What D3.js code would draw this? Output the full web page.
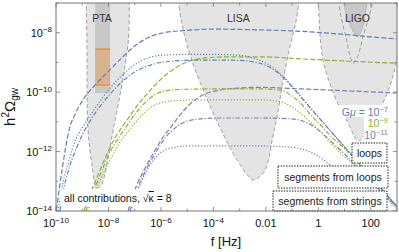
<!DOCTYPE html>
<html>
<head>
<meta charset="utf-8">
<script src="https://cdn.jsdelivr.net/npm/d3@7"></script>
<style>
  body { margin: 0; background: #fff; }
  text { font-family: "Liberation Sans", Arial, sans-serif; }
</style>
</head>
<body>
<script>
// every point is [log10 f in Hz, log10 h^2 Omega_gw]

// G mu = 1e-7
var loopsBlue = [[-10.02,-14.2],[-9.77,-12.62],[-9.5,-11.27],[-9.25,-10.7],[-9.0,-10.3],[-8.5,-9.75],[-8.0,-9.3],[-7.5,-8.85],[-7.0,-8.45],[-6.5,-8.17],[-6,-8.02],[-5,-7.92],[-4,-7.88],[-3,-7.89],[-2,-7.91],[-1,-7.94],[0,-7.99],[1,-8.06],[2,-8.14],[3.05,-8.21]];
var segStringsBlue = [[-9.92,-14.0],[-9.75,-13.12],[-9.5,-12.28],[-9.25,-11.6],[-9,-11.2],[-8.5,-10.53],[-8,-9.93],[-7.5,-9.45],[-7,-9.08],[-6.5,-8.85],[-6,-8.76],[-5,-8.73],[-4,-8.73],[-3,-8.76],[-2.5,-8.85],[-2,-9.02],[-1.5,-9.33],[-1,-9.8],[-0.5,-10.32],[0,-10.84],[1,-11.84],[2,-12.84],[3.05,-13.9]];
var segLoopsBlue = [[-9.85,-14.0],[-9.75,-13.46],[-9.5,-12.55],[-9.25,-11.95],[-9,-11.44],[-8.5,-10.7],[-8,-10.13],[-7.5,-9.66],[-7,-9.32],[-6.5,-9.12],[-6,-9.0],[-5,-8.93],[-4,-8.92],[-3,-8.93],[-2.5,-8.98],[-2,-9.1],[-1.5,-9.38],[-1,-9.82],[-0.5,-10.33],[0,-10.84],[1,-11.84],[2,-12.84],[3.05,-13.9]];

// G mu = 1e-9
var loopsGreen = [[-8.93,-14.0],[-8.78,-13.53],[-8.59,-13.19],[-8.32,-12.62],[-8.02,-12.01],[-7.75,-11.54],[-7.48,-11.17],[-7.18,-10.8],[-6.91,-10.46],[-6.53,-10.06],[-6.03,-9.59],[-5.46,-9.19],[-4.89,-8.95],[-4.31,-8.85],[-3.36,-8.81],[-2.21,-8.81],[-0.69,-8.88],[1.22,-8.96],[3.02,-9.03]];
var segLoopsGreen = [[-8.85,-14.0],[-8.70,-13.53],[-8.51,-13.19],[-8.24,-12.62],[-7.94,-12.01],[-7.67,-11.61],[-7.40,-11.27],[-7.10,-10.87],[-6.79,-10.53],[-6.49,-10.26],[-6.18,-10.06],[-5.84,-9.96],[-5.27,-9.91],[-3.74,-9.89],[-2.21,-9.89],[-1.45,-9.93],[-1.07,-10.09],[-0.69,-10.36],[-0.31,-10.74],[0.08,-11.1],[0.46,-11.47],[1,-11.9],[2,-12.87],[3.05,-13.9]];
var segStringsGreen = [[-8.78,-14.0],[-8.63,-13.53],[-8.44,-13.19],[-8.17,-12.69],[-7.86,-12.15],[-7.6,-11.74],[-7.33,-11.41],[-7.02,-11.07],[-6.72,-10.77],[-6.41,-10.53],[-6.03,-10.36],[-5.46,-10.29],[-4.5,-10.26],[-2.21,-10.26],[-1.64,-10.29],[-1.07,-10.46],[-0.69,-10.7],[-0.31,-11.0],[0.08,-11.34],[0.46,-11.71],[0.84,-12.05],[1.5,-12.55],[2,-12.98],[3.05,-14.0]];

// G mu = 1e-11
var loopsPurple = [[-7.25,-14.0],[-7.1,-13.53],[-6.95,-13.19],[-6.6,-12.55],[-6.22,-11.95],[-5.92,-11.51],[-5.65,-11.21],[-5.27,-10.77],[-4.89,-10.4],[-4.39,-10.09],[-3.74,-9.93],[-2.98,-9.86],[-2.21,-9.84],[-0.69,-9.89],[1.22,-9.96],[3.02,-10.03]];
var segLoopsPurple = [[-7.18,-14.0],[-7.02,-13.53],[-6.87,-13.19],[-6.53,-12.55],[-6.18,-12.01],[-5.84,-11.54],[-5.46,-11.21],[-5.08,-11.0],[-4.5,-10.9],[-3.74,-10.87],[-2.21,-10.87],[-1.07,-10.9],[-0.5,-11.0],[0,-11.27],[0.46,-11.64],[1.03,-12.11],[1.6,-12.62],[2.18,-13.16],[3.02,-13.87]];
var segStringsPurple = [[-7.14,-14.0],[-6.98,-13.53],[-6.83,-13.19],[-6.53,-12.62],[-6.22,-12.22],[-5.92,-11.98],[-5.46,-11.85],[-5,-11.81],[-2.21,-11.81],[-1.07,-11.85],[-0.5,-11.95],[0,-12.15],[0.34,-12.38],[0.84,-12.69],[1.41,-12.99],[1.98,-13.29],[2.56,-13.56],[3.02,-13.9]];

// sensitivity regions (outlines)
var ptaRegion = [[-8.85,-6.9],[-8.82,-8.34],[-8.78,-11.27],[-8.62,-12.5],[-8.47,-13.19],[-8.32,-13.19],[-7.82,-11.27],[-7.25,-8.34],[-7.21,-6.9]];
var ptaBand = [-8.51,-7.94];          // f range of the dark column
var ptaSignal = [-9.76,-8.55];        // Omega range of the orange box
var lisaRegion = [[-5.34,-6.9],[-5.23,-7.57],[-4.89,-8.75],[-4.31,-10.09],[-3.74,-11.21],[-3.28,-12.01],[-2.9,-12.55],[-2.67,-12.82],[-2.48,-12.96],[-2.1,-12.72],[-1.9,-12.28],[-1.76,-11.61],[-1.56,-10.77],[-1.34,-9.59],[-1.11,-8.58],[-0.84,-7.57],[-0.73,-6.9]];
var groundRegion = [[0,-6.9],[0.08,-8.24],[0.19,-8.98],[0.42,-9.66],[0.73,-10.36],[1.11,-11.0],[1.37,-11.47],[1.53,-11.64],[1.72,-11.51],[2.18,-10.84],[2.6,-10.09],[2.86,-9.42],[3.02,-8.75],[3.2,-8.0],[3.2,-6.9]];
var ligoDesign = [[0.76,-6.9],[0.9,-7.6],[1.07,-8.2],[1.2,-8.75],[1.34,-9.02],[1.5,-8.8],[1.72,-8.08],[1.92,-7.5],[2.1,-6.9]];
var ligoRun = [[0.95,-6.9],[1.07,-7.4],[1.26,-7.84],[1.49,-8.14],[1.68,-7.84],[1.79,-7.4],[1.87,-6.9]];

var xTickExp = d3.range(-10, 4);
var xLabelExp = [-10, -8, -6, -4, -2, 0, 2];
var yTickExp = d3.range(-14, -6);
var yLabelExp = [-14, -12, -10, -8];
var gmuLabels = ["\u22127", "\u22129", "\u221211"];

var blue = "#5e81b5", green = "#8fb032", purple = "#8778b3";

var svg = d3.select("body").append("svg")
    .attr("width", 399)
    .attr("height", 252);

var x = d3.scaleLog().domain([1e-10, 1e3]).range([56, 397]);
var y = d3.scaleLog().domain([1e-14, 1e-7]).range([211, 3]);

function px(d) { return x(Math.pow(10, d[0])); }
function py(d) { return y(Math.pow(10, d[1])); }

svg.append("clipPath").attr("id", "plot")
  .append("rect").attr("x", 56).attr("y", 3).attr("width", 341).attr("height", 208);

var plot = svg.append("g").attr("clip-path", "url(#plot)");

// ---- detector regions
var area = d3.line().x(px).y(py).curve(d3.curveCatmullRom.alpha(0.5));

function region(data, fill) {
  plot.append("path")
      .attr("d", area(data) + "Z")
      .attr("fill", fill)
      .attr("stroke", "none");
  plot.append("path")
      .attr("d", area(data))
      .attr("fill", "none")
      .attr("stroke", "#8c8c8c")
      .attr("stroke-width", 0.8)
      .attr("stroke-dasharray", "4,2.5");
}

region(ptaRegion, "#e4e4e4");
region(lisaRegion, "#e4e4e4");
region(groundRegion, "#e4e4e4");
region(ligoDesign, "none");
plot.append("path")
    .attr("d", area(ligoRun) + "Z")
    .attr("fill", "#c8c8c8")
    .attr("stroke", "#999")
    .attr("stroke-width", 0.5);

// PTA column and signal box
plot.append("rect")
    .attr("x", x(Math.pow(10, ptaBand[0])))
    .attr("y", 0)
    .attr("width", x(Math.pow(10, ptaBand[1])) - x(Math.pow(10, ptaBand[0])))
    .attr("height", y(Math.pow(10, ptaSignal[0] - 0.27)))
    .attr("fill", "#c8c8c8");
plot.append("rect")
    .attr("x", x(Math.pow(10, ptaBand[0])))
    .attr("y", y(Math.pow(10, ptaSignal[1])))
    .attr("width", x(Math.pow(10, ptaBand[1])) - x(Math.pow(10, ptaBand[0])))
    .attr("height", y(Math.pow(10, ptaSignal[0])) - y(Math.pow(10, ptaSignal[1])))
    .attr("fill", "#e8a060")
    .attr("fill-opacity", 0.55);
ptaSignal.forEach(function(v) {
  plot.append("line")
      .attr("x1", x(Math.pow(10, ptaBand[0]))).attr("x2", x(Math.pow(10, ptaBand[1])))
      .attr("y1", y(Math.pow(10, v))).attr("y2", y(Math.pow(10, v)))
      .attr("stroke", "#f08a20").attr("stroke-width", 1.3);
});

// ---- spectra
var dashLoops = "5,2.2", dashSegLoops = "4.5,1.8,1.2,1.8", dashSegStrings = "1.2,1.8";
var series = [
  { data: segStringsPurple, color: purple, dash: dashSegStrings },
  { data: segLoopsPurple,   color: purple, dash: dashSegLoops },
  { data: loopsPurple,      color: purple, dash: dashLoops },
  { data: segStringsGreen,  color: green,  dash: dashSegStrings },
  { data: segLoopsGreen,    color: green,  dash: dashSegLoops },
  { data: loopsGreen,       color: green,  dash: dashLoops },
  { data: segStringsBlue,   color: blue,   dash: dashSegStrings },
  { data: segLoopsBlue,     color: blue,   dash: dashSegLoops },
  { data: loopsBlue,        color: blue,   dash: dashLoops }
];

var line = d3.line().x(px).y(py).curve(d3.curveMonotoneX);

plot.selectAll("path.spec")
  .data(series)
  .enter().append("path")
    .attr("class", "spec")
    .attr("d", function(d) { return line(d.data); })
    .attr("fill", "none")
    .attr("stroke", function(d) { return d.color; })
    .attr("stroke-width", 1.2)
    .attr("stroke-dasharray", function(d) { return d.dash; });

// ---- region labels
function label(t, cx, cy) {
  plot.append("text").attr("x", cx).attr("y", cy)
      .attr("text-anchor", "middle").attr("font-size", 10.5).attr("fill", "#333")
      .text(t);
}
label("PTA", x(5.7e-9), 22);
label("LISA", x(9e-4), 22);
label("LIGO", x(31), 22);

// Gmu legend
var gl = svg.append("g");
gl.append("rect").attr("x", 339).attr("y", 105).attr("width", 50).attr("height", 12).attr("fill", "#fff");
gl.append("rect").attr("x", 364).attr("y", 117).attr("width", 25).attr("height", 22).attr("fill", "#fff");
var colors = [blue, green, purple];
gmuLabels.forEach(function(s, i) {
  var t = gl.append("text").attr("x", 388).attr("y", 115.5 + i * 11.5)
      .attr("text-anchor", "end").attr("font-size", 10.5).attr("fill", colors[i]);
  if (i == 0) {
    t.append("tspan").text("G");
    t.append("tspan").attr("font-style", "italic").text("\u03bc");
    t.append("tspan").text(" = 10");
  } else {
    t.append("tspan").text("10");
  }
  t.append("tspan").attr("dy", -4).attr("font-size", 7.5).text(s);
});

// line style legend boxes
var boxes = [
  { t: "loops", x0: 352, x1: 387, y0: 143, y1: 163 },
  { t: "segments from loops", x0: 278, x1: 388, y0: 166, y1: 188 },
  { t: "segments from strings", x0: 273, x1: 387, y0: 191, y1: 211 }
];
boxes.forEach(function(b) {
  svg.append("rect").attr("x", b.x0).attr("y", b.y0)
      .attr("width", b.x1 - b.x0).attr("height", b.y1 - b.y0)
      .attr("fill", "#fff").attr("stroke", "#222")
      .attr("stroke-width", 1).attr("stroke-dasharray", "1.5,1.2");
  svg.append("text").attr("x", (b.x0 + b.x1) / 2).attr("y", (b.y0 + b.y1) / 2 + 4)
      .attr("text-anchor", "middle").attr("font-size", 10.5).attr("fill", "#222")
      .text(b.t);
});

// caption box
svg.append("rect").attr("x", 60).attr("y", 189).attr("width", 122).attr("height", 17).attr("fill", "#fff");
var cap = svg.append("text").attr("x", 64).attr("y", 202).attr("font-size", 10.5).attr("fill", "#111");
cap.append("tspan").text("all contributions,  \u221a");
cap.append("tspan").style("text-decoration", "overline").text("\u03ba");
cap.append("tspan").text(" = 8");

// ---- frame and ticks
svg.append("rect").attr("x", 56).attr("y", 3).attr("width", 341).attr("height", 208)
    .attr("fill", "none").attr("stroke", "#777").attr("stroke-width", 1);

var tk = svg.append("g").attr("stroke", "#777").attr("stroke-width", 0.8);
xTickExp.forEach(function(e) {
  var X = x(Math.pow(10, e)), len = xLabelExp.indexOf(e) >= 0 ? 4 : 2.5;
  tk.append("line").attr("x1", X).attr("x2", X).attr("y1", 211).attr("y2", 211 - len);
  tk.append("line").attr("x1", X).attr("x2", X).attr("y1", 3).attr("y2", 3 + len);
});
yTickExp.forEach(function(e) {
  var Y = y(Math.pow(10, e)), len = yLabelExp.indexOf(e) >= 0 ? 4 : 2.5;
  tk.append("line").attr("x1", 56).attr("x2", 56 + len).attr("y1", Y).attr("y2", Y);
  tk.append("line").attr("x1", 397).attr("x2", 397 - len).attr("y1", Y).attr("y2", Y);
});

function powLabel(sel, e) {
  if (e >= -2) {
    sel.text(e == -2 ? "0.01" : e == 0 ? "1" : "100");
    return;
  }
  sel.append("tspan").text("10");
  sel.append("tspan").attr("dy", -4.5).attr("font-size", 8).text("\u2212" + (-e));
}

xLabelExp.forEach(function(e) {
  var t = svg.append("text").attr("x", x(Math.pow(10, e))).attr("y", 227)
      .attr("text-anchor", "middle").attr("font-size", 11).attr("fill", "#111");
  powLabel(t, e);
});
yLabelExp.forEach(function(e) {
  var t = svg.append("text").attr("x", 52).attr("y", y(Math.pow(10, e)) + 4)
      .attr("text-anchor", "end").attr("font-size", 11).attr("fill", "#111");
  powLabel(t, e);
});

// axis titles
svg.append("text").attr("x", 226).attr("y", 246).attr("text-anchor", "middle")
    .attr("font-size", 13).attr("fill", "#111").text("f [Hz]");
var yt = svg.append("text").attr("transform", "translate(15,107) rotate(-90)")
    .attr("text-anchor", "middle").attr("font-size", 15).attr("fill", "#111");
yt.append("tspan").text("h");
yt.append("tspan").attr("dy", -6).attr("font-size", 10).text("2");
yt.append("tspan").attr("dy", 6).text("\u03a9");
yt.append("tspan").attr("dy", 3).attr("font-size", 10).text("gw");
</script>
</body>
</html>
